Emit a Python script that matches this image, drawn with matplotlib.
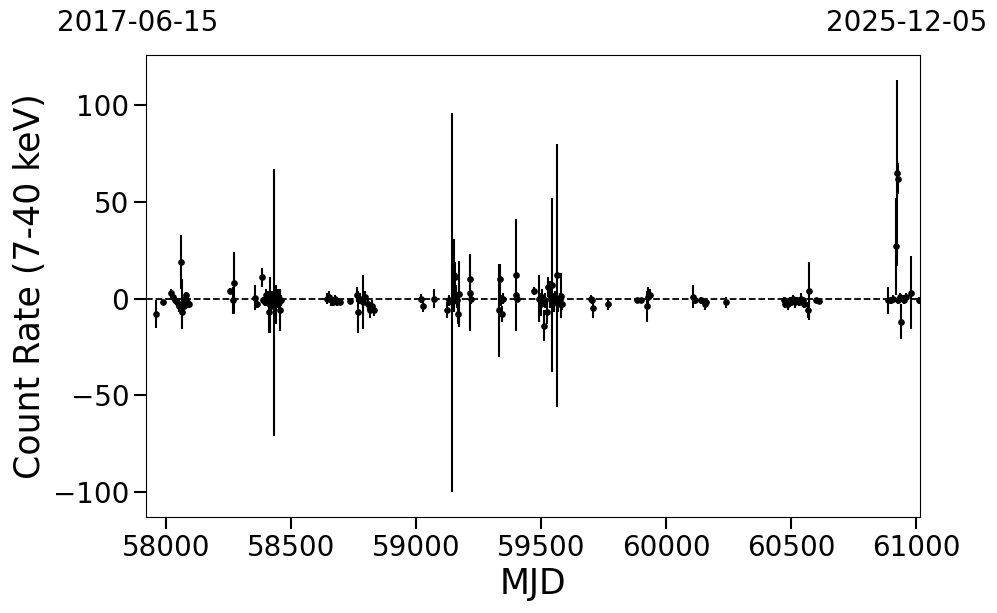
import numpy as np
import matplotlib
matplotlib.use('Agg')
import matplotlib.pyplot as plt

# light curve values (MJD, count rate, 1-sigma error)
mjd = np.array([
    57960, 57988, 58020, 58028, 58036, 58044, 58052, 58060, 58062, 58064, 58072, 58076, 58080, 58084, 58092,
    58256, 58268, 58272,
    58356, 58364, 58384, 58388, 58396, 58400, 58404, 58408, 58412, 58416, 58420, 58424, 58432, 58440, 58448, 58452, 58456, 58460,
    58644, 58652, 58660, 58668, 58676, 58684, 58696,
    58736, 58764, 58768, 58776, 58788, 58796, 58808, 58816, 58824, 58832,
    59020, 59028, 59072,
    59124, 59132, 59144, 59152, 59156, 59160, 59164, 59168, 59172, 59214, 59216, 59218,
    59332, 59336, 59340, 59344, 59348, 59400, 59401, 59404,
    59472, 59492, 59500, 59504, 59512, 59516, 59524, 59528, 59536, 59544, 59552, 59556, 59564, 59568, 59576, 59580, 59584,
    59700, 59704, 59708, 59768,
    59884, 59900, 59924, 59928, 59936,
    60108, 60116, 60140, 60156, 60160,
    60240,
    60472, 60476, 60484, 60488, 60496, 60500, 60508, 60516, 60524, 60532, 60540, 60548, 60552, 60568, 60572, 60600, 60612,
    60888, 60900, 60908, 60920, 60924, 60926, 60928, 60936, 60940, 60948, 60952, 60960, 60980, 61012,
])
rate = np.array([
    -8, -2, 3, 1, -1, -2, -4, 19, -3, -7, -4, 0, 2, -2, -3,
    4, -1, 8,
    0.5, -3, 11, -1, -2, 2, -1, 0, -7, -3.5, -4, 1, -2, -3, 0, -2, -6, -1,
    0, 1, -1, -2, 0, -2, -2,
    -1.5, 2, -7, 0, -2, 1, -3, -6, -4, -6,
    0, -4, 0,
    -6, -1, -2, 12, 11, 2, -1, -8, 2.5, 10, 3, 0,
    -6, 10, -1, -8, 0, 12, 2, 0,
    4, 0, -3, 1, -14, -1, -7, 6, 2, 7, -2, 1, 12, -3, 0, 1.5, -3,
    0, -1, -5, -3,
    -1, -1, -4, 1, 2,
    1, -1, -1, -3, -2,
    -2,
    -1, -3, -2, -3, -1, -2, 0, -2, -1, -2, 0, -1, -3, -6, 4, -1, -1.5,
    -1, -1, 0, 27, 65, 62, -1, 1, -12, 0, -1, 1, 3, -1,
])
rate_err = np.array([
    7, 1.5, 2, 2, 2, 2, 3, 14, 13, 3, 3, 2, 1.5, 3, 2,
    1.5, 7, 16,
    6.5, 2, 5, 2, 2, 3, 3, 4, 11, 14.5, 4, 3, 69, 10, 5, 3, 11, 3,
    3, 3, 3, 2, 2, 2, 1.5,
    1.5, 4, 11, 3, 14, 3, 3, 4, 3, 3,
    2.5, 3, 5,
    4, 3, 98, 19, 8, 5, 4, 5, 17, 4, 20, 3,
    24, 8, 3, 4, 3, 29, 3, 2,
    2, 12, 6, 4, 8, 4, 6, 5, 7, 45, 5, 3, 68, 4, 3, 11.5, 3,
    2, 2, 5, 3,
    1.5, 1.5, 8, 5, 3,
    6, 2, 2, 3, 2,
    3,
    2, 2, 2, 3, 2, 2, 2, 3, 2, 2, 3, 2, 2, 4, 15, 1.5, 1.5,
    7, 2, 2, 25, 48, 8, 2, 2, 9, 2, 2, 2, 19, 2,
])

xlim = (57919, 61016)
date_start = '2017-06-15'
date_end = '2025-12-05'

fig, ax = plt.subplots(figsize=(9.97, 6.13), dpi=100)
fig.subplots_adjust(left=0.1464, right=0.9228, top=0.9103, bottom=0.1566)

ax.errorbar(mjd, rate, yerr=rate_err, fmt='o', color='black', ms=3.8,
            elinewidth=1.5, capsize=0)
ax.axhline(0, color='black', ls='--', lw=1.3)

ax.set_xlim(xlim)
ax.set_ylim(-113, 126)
ax.set_xticks([58000, 58500, 59000, 59500, 60000, 60500, 61000])
ax.set_yticks([-100, -50, 0, 50, 100])
ax.tick_params(axis='both', labelsize=20, length=8.5, width=1.5)
ax.set_xlabel('MJD', fontsize=25)
ax.set_ylabel('Count Rate (7-40 keV)', fontsize=25)

# calendar dates of the axis ends
fig.text(57 / 997, 1 - 23 / 613, date_start, fontsize=20, ha='left', va='center')
fig.text(987 / 997, 1 - 23 / 613, date_end, fontsize=20, ha='right', va='center')

plt.savefig('out.png', dpi=100)
